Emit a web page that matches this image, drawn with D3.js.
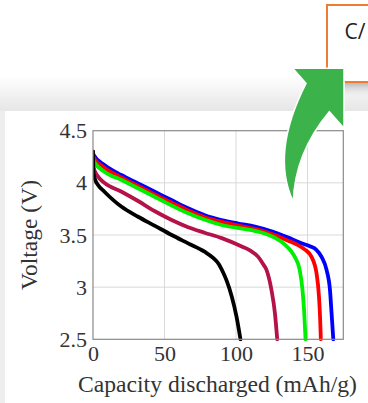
<!DOCTYPE html>
<html><head><meta charset="utf-8">
<script src="https://cdn.jsdelivr.net/npm/d3@7"></script>
<style>html,body{margin:0;padding:0;background:#fff;overflow:hidden}svg{display:block}</style>
</head><body>
<svg id="c" width="368" height="403"></svg>
<script>
// ---- data ----
const seriesNames = ["blue", "red", "green", "maroon", "black"];
const seriesColors = ["#0000ff", "#ff0000", "#00ee00", "#b5124b", "#000000"];
const blueData = [[0,4.30],[0.3,4.27],[8.2,4.17],[19.8,4.075],[31.5,3.995],[43.2,3.915],[54.8,3.835],[66.5,3.756],[78.2,3.69],[89.8,3.644],[101.5,3.61],[113.2,3.58],[124.8,3.535],[136.5,3.475],[145.8,3.42],[152,3.39],[156,3.36],[159.8,3.29],[163.3,3.165],[165.7,2.97],[166.8,2.75],[168,2.50]];
const redData = [[0,4.30],[0.3,4.245],[8,4.145],[20,4.05],[31.5,3.97],[43,3.89],[55,3.81],[66.5,3.735],[78,3.67],[90,3.625],[101.5,3.59],[113,3.558],[125,3.51],[136.5,3.445],[143,3.405],[148.2,3.36],[152.8,3.29],[156.3,3.13],[158,2.91],[158.8,2.70],[159.3,2.50]];
const greenData = [[0,4.30],[0.3,4.21],[8,4.107],[20,4.027],[43,3.867],[66.5,3.708],[90,3.596],[113,3.54],[120,3.515],[127,3.475],[134,3.41],[138.5,3.345],[141.5,3.28],[144.5,3.165],[146.5,2.97],[147.7,2.75],[148.6,2.50]];
const maroonData = [[0,4.30],[0.3,4.15],[3,4.07],[8,4.0],[20,3.915],[31.5,3.826],[43,3.73],[55,3.644],[66.5,3.575],[78,3.522],[90,3.47],[104,3.39],[110,3.35],[115.5,3.29],[119,3.22],[121.3,3.165],[124.8,2.97],[127.2,2.75],[128.8,2.50]];
const blackData = [[0,4.30],[0.3,4.10],[1.5,4.03],[3.5,3.98],[8,3.915],[20,3.77],[31.5,3.675],[43,3.59],[55,3.50],[66.5,3.42],[78,3.34],[84,3.28],[88,3.22],[91,3.14],[93.5,3.06],[97,2.91],[100.3,2.72],[103.1,2.50]];
const allSeries = [blueData, redData, greenData, maroonData, blackData];
const xTicks = [0, 50, 100, 150];
const yTicks = [2.5, 3, 3.5, 4, 4.5];
const xDomain = [0, 175];
const yDomain = [2.5, 4.5];
const xTitle = "Capacity discharged (mAh/g)";
const yTitle = "Voltage (V)";
const calloutText = "C/";

// ---- layout ----
const svg = d3.select("#c");
const L = 93, R = 343.3, T = 130.7, B = 339.3;
const x = d3.scaleLinear().domain(xDomain).range([L, R]);
const y = d3.scaleLinear().domain(yDomain).range([B, T]);

// background: shadow band and panel
const defs = svg.append("defs");
const g1 = defs.append("linearGradient").attr("id","band").attr("x1",0).attr("y1",0).attr("x2",0).attr("y2",1);
g1.append("stop").attr("offset","0").attr("stop-color","#ffffff");
g1.append("stop").attr("offset","0.55").attr("stop-color","#f1f1f1");
g1.append("stop").attr("offset","1").attr("stop-color","#e6e6e6");
svg.append("rect").attr("x",0).attr("y",76).attr("width",368).attr("height",35).attr("fill","url(#band)");
const g2 = defs.append("linearGradient").attr("id","boxsh").attr("x1",0).attr("y1",0).attr("x2",0).attr("y2",1);
g2.append("stop").attr("offset","0").attr("stop-color","#b8b8b8");
g2.append("stop").attr("offset","1").attr("stop-color","#e6e6e6").attr("stop-opacity",0);
svg.append("rect").attr("x",330).attr("y",83).attr("width",40).attr("height",14).attr("fill","url(#boxsh)");
svg.append("rect").attr("x",0).attr("y",111).attr("width",368).attr("height",292).attr("fill","#ffffff");
svg.append("rect").attr("x",0).attr("y",111).attr("width",5).attr("height",292).attr("fill","#eeeeee");

// callout box
svg.append("rect").attr("x",327).attr("y",5).attr("width",60).attr("height",77)
  .attr("fill","#fff").attr("stroke","#ed7d31").attr("stroke-width",2);
svg.append("text").attr("x",344.5).attr("y",39).attr("font-family","'Open Sans', 'Noto Sans', sans-serif")
  .attr("font-size",21).attr("fill","#222").text(calloutText);

// grid
const grid = svg.append("g");
grid.selectAll("line.v").data(xTicks.filter(d=>d>xDomain[0])).join("line")
  .attr("x1",d=>x(d)).attr("x2",d=>x(d)).attr("y1",T).attr("y2",B).attr("stroke","#d9d9d9").attr("stroke-width",1);
grid.selectAll("line.h").data(yTicks.filter(d=>d>yDomain[0] && d<yDomain[1])).join("line")
  .attr("y1",d=>y(d)).attr("y2",d=>y(d)).attr("x1",L).attr("x2",R).attr("stroke","#d9d9d9").attr("stroke-width",1);

// axes
const fontSerif = "'Liberation Serif', 'DejaVu Serif', serif";
const xAxis = svg.append("g").attr("transform",`translate(0,${B})`)
  .call(d3.axisBottom(x).tickValues(xTicks).tickSize(0).tickPadding(6).tickFormat(d3.format("d")));
xAxis.select(".domain").remove();
xAxis.selectAll("text").attr("font-family",fontSerif).attr("font-size",22).attr("fill","#333").attr("dy","0.71em");
const yAxis = svg.append("g").attr("transform",`translate(${L},0)`)
  .call(d3.axisLeft(y).tickValues(yTicks).tickSize(0).tickPadding(6).tickFormat(d=>String(d)));
yAxis.select(".domain").remove();
yAxis.selectAll("text").attr("font-family",fontSerif).attr("font-size",22).attr("fill","#333");

// curves
const clip = defs.append("clipPath").attr("id","plotclip");
clip.append("rect").attr("x",L).attr("y",T).attr("width",R-L).attr("height",B-T+2);
const line = d3.line().x(d=>x(d[0])).y(d=>y(d[1])).curve(d3.curveMonotoneX);
svg.append("g").attr("clip-path","url(#plotclip)").selectAll("path").data(allSeries).join("path")
  .attr("d", line).attr("fill","none").attr("stroke",(d,i)=>seriesColors[i])
  .attr("stroke-width",3.8).attr("stroke-linejoin","round").attr("stroke-linecap","round");

// frame
svg.append("rect").attr("x",L).attr("y",T).attr("width",R-L).attr("height",B-T)
  .attr("fill","none").attr("stroke","#8a8a8a").attr("stroke-width",1.2);

// axis titles, fitted to measured widths
const xt = svg.append("text").attr("x",(78+357)/2).attr("y",392).attr("text-anchor","middle")
  .attr("font-family",fontSerif).attr("font-size",22).attr("fill","#333").text(xTitle);
let w = xt.node().getComputedTextLength(); xt.attr("font-size", 22*279/w);
const yt = svg.append("text").attr("transform",`translate(37,235) rotate(-90)`).attr("text-anchor","middle")
  .attr("font-family",fontSerif).attr("font-size",22).attr("fill","#333").text(yTitle);
w = yt.node().getComputedTextLength(); yt.attr("font-size", 22*110/w);

// green arrow
svg.append("path")
  .attr("d","M292.7,68.3 L344,68.3 L344,128.3 L329.3,111.7 Q294.7,153.3 293.3,201.7 Q270.4,153.5 306,83.3 Z")
  .attr("fill","#3bb34a").attr("stroke","#ffffff").attr("stroke-width",1.5).attr("stroke-linejoin","miter");
</script>
</body></html>
